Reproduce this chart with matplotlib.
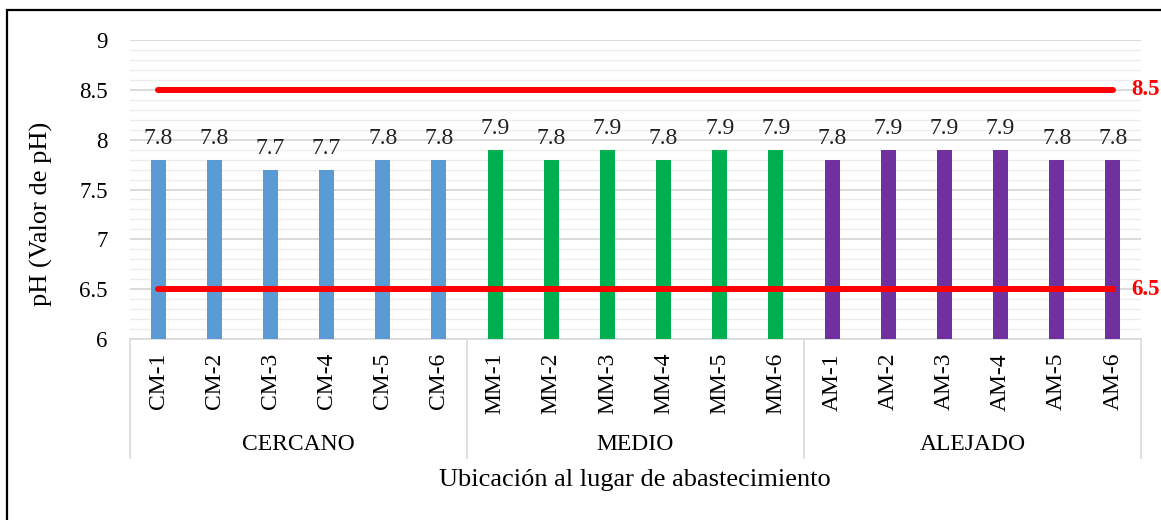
import matplotlib
matplotlib.use("Agg")
import matplotlib.pyplot as plt
from matplotlib.patches import Rectangle
from matplotlib.ticker import MultipleLocator
import matplotlib.transforms as mtrans

plt.rcParams['font.family'] = ['Liberation Serif', 'DejaVu Serif']

categories = ["CM-1", "CM-2", "CM-3", "CM-4", "CM-5", "CM-6",
              "MM-1", "MM-2", "MM-3", "MM-4", "MM-5", "MM-6",
              "AM-1", "AM-2", "AM-3", "AM-4", "AM-5", "AM-6"]
values = [7.8, 7.8, 7.7, 7.7, 7.8, 7.8,
          7.9, 7.8, 7.9, 7.8, 7.9, 7.9,
          7.8, 7.9, 7.9, 7.9, 7.8, 7.8]
groups = ["CERCANO", "MEDIO", "ALEJADO"]
group_colors = ["#5B9BD5", "#00B050", "#7030A0"]
limit_max = 8.5
limit_min = 6.5

W, H = 1161, 520
fig = plt.figure(figsize=(W / 100, H / 100), dpi=100)
ax = fig.add_axes([130 / W, 1 - 339 / H, (1141 - 130) / W, (339 - 40) / H])

n = len(categories)
per = n // len(groups)
x = list(range(n))
colors = [group_colors[i // per] for i in range(n)]
ax.bar(x, values, width=0.27, color=colors, zorder=3)

for xi, v in zip(x, values):
    ax.annotate(f"{v:.1f}", (xi, v), xytext=(0, 11.5), textcoords="offset points",
                ha="center", va="baseline", fontsize=17, color="#222222")

ax.hlines([limit_max, limit_min], 0, n - 1, colors="#FF0000", lw=4.3, zorder=4,
          capstyle="round")
for lv in (limit_max, limit_min):
    ax.text(n - 1 + 0.32, lv, f"{lv}", color="#FF0000", fontsize=16.5,
            fontweight="bold", ha="left", va="center", clip_on=False)

ax.set_xlim(-0.5, n - 0.5)
ax.set_ylim(6, 9)
ax.yaxis.set_major_locator(MultipleLocator(0.5))
ax.yaxis.set_minor_locator(MultipleLocator(0.1))
ax.yaxis.set_major_formatter(plt.FuncFormatter(lambda v, p: f"{v:g}"))
ax.grid(axis="y", which="major", color="#d4d4d4", lw=1.2, zorder=0)
ax.grid(axis="y", which="minor", color="#ececec", lw=1.0, zorder=0)
ax.set_axisbelow(True)
for s in ("top", "left", "right"):
    ax.spines[s].set_visible(False)
ax.spines["bottom"].set_color("#d9d9d9")
ax.spines["bottom"].set_linewidth(1.2)
ax.tick_params(axis="y", which="both", length=0, labelsize=16.5, pad=16)
ax.tick_params(axis="x", length=0, labelsize=17, pad=10)
ax.set_xticks(x)
ax.set_xticklabels(categories, rotation=90, va="top", ha="center")

trans = mtrans.blended_transform_factory(ax.transData, ax.transAxes)
bottom_frac = -(458 - 339) / (339 - 40)
for g in range(len(groups) + 1):
    xb = g * per - 0.5
    ax.plot([xb, xb], [0, bottom_frac], color="#d9d9d9", lw=1.2,
            transform=trans, clip_on=False)
label_y = -(445 - 339) / (339 - 40)
for g, name in enumerate(groups):
    ax.text(g * per + (per - 1) / 2, label_y, name, transform=trans,
            ha="center", va="center", fontsize=17)

fig.text(635 / W, 1 - 480 / H, "Ubicación al lugar de abastecimiento",
         ha="center", va="center", fontsize=19)
fig.text(41 / W, 1 - 214 / H, "pH (Valor de pH)", rotation=90,
         ha="center", va="center", fontsize=19)

fig.patches.append(Rectangle((7 / W, -0.1), 2, 1.1 - 10 / H, transform=fig.transFigure,
                             fill=False, edgecolor="black", lw=1.6))

fig.savefig("out.png", dpi=100)
